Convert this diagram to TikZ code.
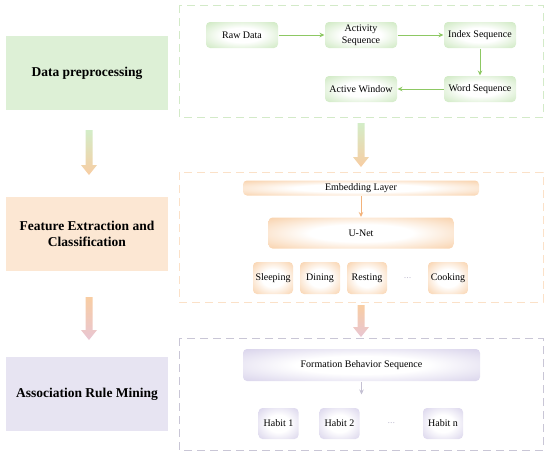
\documentclass[tikz,border=0pt]{standalone}
\usepackage{fontspec}
\setmainfont{Liberation Serif}
\usetikzlibrary{arrows.meta, positioning, calc}
\definecolor{cgreen}{HTML}{DDF0D6}
\definecolor{corange}{HTML}{FCE7D3}
\definecolor{cpurple}{HTML}{E7E4F2}
\definecolor{cgreenin}{HTML}{C8E6BA}
\definecolor{corangein}{HTML}{F8CDA3}
\definecolor{cpurplein}{HTML}{D5CFE9}
\definecolor{cgreenline}{HTML}{8DC863}
\definecolor{corangeline}{HTML}{F3B27A}
\definecolor{cgreyline}{HTML}{C4C0D3}
\definecolor{cgreendash}{HTML}{D3EAC8}
\definecolor{corangedash}{HTML}{FBE1C8}
\definecolor{cpurpledash}{HTML}{C9C6D6}
\definecolor{cpink}{HTML}{E9C6D3}
\definecolor{cgreenarrow}{HTML}{D3EDC8}
\pgfdeclareradialshading{glowgreen}{\pgfpoint{0bp}{0bp}}{color(0bp)=(white); color(14bp)=(white); color(38bp)=(cgreenin); color(50bp)=(cgreenin)}
\pgfdeclareradialshading{gloworange}{\pgfpoint{0bp}{0bp}}{color(0bp)=(white); color(14bp)=(white); color(38bp)=(corangein); color(50bp)=(corangein)}
\pgfdeclareradialshading{glowpurple}{\pgfpoint{0bp}{0bp}}{color(0bp)=(white); color(14bp)=(white); color(38bp)=(cpurplein); color(50bp)=(cpurplein)}
\tikzset{
  every picture/.style={line width=1pt},
  stage/.style={fill=#1, align=center, minimum width=162pt, minimum height=74pt, font=\fontsize{13.5}{16}\selectfont\bfseries},
  stage/.default=cgreen,
  item/.style={shading=#1, rounded corners=4pt, align=center, inner sep=2pt, font=\fontsize{10}{11.5}\selectfont},
  item/.default=glowgreen,
  frame/.style={draw=#1, dash pattern=on 8pt off 5pt, line width=1pt},
  arrow/.style={-{Stealth[length=5pt, width=4.5pt]}, draw=#1, line width=1pt},
  arrow/.default=cgreenline,
  dots/.style={text=cgreyline, font=\fontsize{10}{11.5}\selectfont},
}
\newcommand{\flowarrow}[4]{%
  \shade[top color=#3, bottom color=#4]
    ($(#1)+(-3.5,0)$) -- ($(#2)+(-3.5,-10)$) -- ($(#2)+(-8,-10)$) -- (#2)
    -- ($(#2)+(8,-10)$) -- ($(#2)+(3.5,-10)$) -- ($(#1)+(3.5,0)$) -- cycle;}

\begin{document}
\begin{tikzpicture}[x=1pt, y=-1pt]
  \useasboundingbox (0,0) rectangle (550,456);
  % stages on the left
  \node[stage=cgreen] (dp) at (87,73) {Data preprocessing};
  \node[stage=corange] (fe) at (87,233.5) {Feature Extraction and\\Classification};
  \node[stage=cpurple] (arm) at (87,394) {Association Rule Mining};
  % dashed frames
  \draw[frame=cgreendash] (179,5) rectangle (543,117);
  \draw[frame=corangedash] (179,172) rectangle (543,302);
  \draw[frame=cpurpledash] (179,338) rectangle (543,450);
  % data preprocessing
  \begin{scope}[node distance=27pt and 46pt, every node/.append style={minimum width=72pt, minimum height=26pt}]
    \node[item] (raw) at (242,35) {Raw Data};
    \node[item, right=of raw] (act) {Activity\\Sequence};
    \node[item, right=of act] (idx) {Index Sequence};
    \node[item, below=of idx] (wrd) {Word Sequence};
    \node[item, left=of wrd] (win) {Active Window};
  \end{scope}
  \draw[arrow] (raw) -- (act);
  \draw[arrow] (act) -- (idx);
  \draw[arrow] (idx) -- (wrd);
  \draw[arrow] (wrd) -- (win);
  % feature extraction
  \node[item=gloworange, minimum width=236pt, minimum height=15pt] (emb) at (361,188) {Embedding Layer};
  \node[item=gloworange, minimum width=185pt, minimum height=31pt, below=21pt of emb] (unet) {U-Net};
  \draw[arrow=corangeline] (emb) -- (unet);
  \begin{scope}[node distance=6pt, every node/.append style={minimum width=40pt, minimum height=32pt}]
    \node[item=gloworange] (sleep) at (273,278) {Sleeping};
    \node[item=gloworange, right=of sleep] (dine) {Dining};
    \node[item=gloworange, right=of dine] (rest) {Resting};
    \node[item=gloworange] (cook) at (448,278) {Cooking};
  \end{scope}
  \node[dots] (actdots) at ($(rest)!0.5!(cook)$) {...};
  % association rule mining
  \node[item=glowpurple, minimum width=237pt, minimum height=32pt] (form) at (361.5,365) {Formation Behavior Sequence};
  \coordinate (formend) at ($(form.south)+(0,13)$);
  \draw[arrow=cgreyline] (form) -- (formend);
  \begin{scope}[node distance=20pt, every node/.append style={minimum width=40pt, minimum height=31pt}]
    \node[item=glowpurple] (hab1) at (278.5,423.5) {Habit 1};
    \node[item=glowpurple, right=of hab1] (hab2) {Habit 2};
    \node[item=glowpurple] (habn) at (443,423.5) {Habit n};
  \end{scope}
  \node[dots] (habdots) at ($(hab2)!0.5!(habn)$) {...};
  % arrows between stages
  \coordinate (l1s) at (89,130);  \coordinate (l1e) at (89,175);
  \coordinate (r1s) at (361,123); \coordinate (r1e) at (361,167);
  \coordinate (l2s) at (89,297);  \coordinate (l2e) at (89,340);
  \coordinate (r2s) at (361,305); \coordinate (r2e) at (361,337);
  \flowarrow{l1s}{l1e}{cgreenarrow}{corangein}
  \flowarrow{r1s}{r1e}{cgreenarrow}{corangein}
  \flowarrow{l2s}{l2e}{corangein}{cpink}
  \flowarrow{r2s}{r2e}{corangein}{cpink}
\end{tikzpicture}
\end{document}
